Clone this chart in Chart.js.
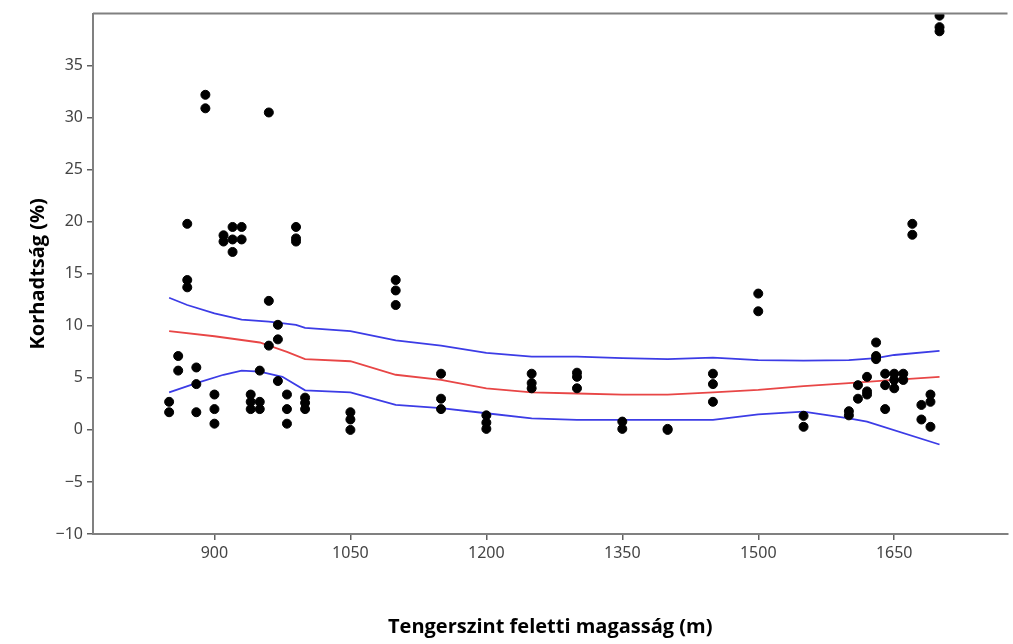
<!DOCTYPE html>
<html>
<head>
<meta charset="utf-8">
<script src="https://cdn.jsdelivr.net/npm/chart.js@4/dist/chart.umd.min.js"></script>
<style>
  body { margin: 0; background: #fff; }
  #wrap { width: 1013px; height: 644px; }
</style>
</head>
<body>
<div id="wrap"><canvas id="myChart"></canvas></div>
<script>
// measured samples: altitude (m) and rot (%)
var pointX = [
  850, 850, 860, 860, 870, 870, 870, 880, 880, 880, 890, 890,
  900, 900, 900, 910, 910, 920, 920, 920, 930, 930,
  940, 940, 940, 950, 950, 950, 960, 960, 960, 970, 970, 970,
  980, 980, 980, 990, 990, 990, 1000, 1000, 1000,
  1050, 1050, 1050, 1100, 1100, 1100, 1150, 1150, 1150,
  1200, 1200, 1200, 1250, 1250, 1250, 1300, 1300, 1300,
  1350, 1350, 1400, 1400, 1450, 1450, 1450, 1500, 1500,
  1550, 1550, 1600, 1600, 1610, 1610, 1620, 1620, 1620,
  1630, 1630, 1630, 1640, 1640, 1640, 1650, 1650, 1650,
  1660, 1660, 1670, 1670, 1680, 1680, 1690, 1690, 1690,
  1700, 1700, 1700
];
var pointY = [
  2.7, 1.7, 7.1, 5.7, 19.8, 14.4, 13.7, 6.0, 4.4, 1.7, 32.2, 30.9,
  3.4, 2.0, 0.6, 18.7, 18.1, 19.5, 18.3, 17.1, 19.5, 18.3,
  3.4, 2.7, 2.0, 5.7, 2.7, 2.0, 30.5, 12.4, 8.1, 10.1, 8.7, 4.7,
  3.4, 2.0, 0.6, 19.5, 18.4, 18.1, 3.1, 2.6, 2.0,
  1.7, 1.0, 0.0, 14.4, 13.4, 12.0, 5.4, 3.0, 2.0,
  1.4, 0.7, 0.1, 5.4, 4.5, 4.0, 5.5, 5.1, 4.0,
  0.8, 0.1, 0.1, 0.0, 5.4, 4.4, 2.7, 13.1, 11.4,
  1.35, 0.3, 1.8, 1.4, 4.3, 3.0, 5.1, 3.7, 3.4,
  8.4, 7.1, 6.8, 5.4, 4.3, 2.0, 5.4, 4.8, 4.0,
  5.4, 4.8, 19.8, 18.75, 2.4, 1.0, 3.4, 2.7, 0.3,
  39.8, 38.7, 38.3
];

// smoothed fit and its band
var fitX = [850, 900, 950, 980, 1000, 1050, 1100, 1150, 1200, 1250, 1300, 1350, 1400, 1450, 1500, 1550, 1600, 1650, 1700];
var fitY = [9.5, 9.0, 8.4, 7.5, 6.8, 6.6, 5.3, 4.8, 4.0, 3.6, 3.5, 3.4, 3.4, 3.6, 3.85, 4.2, 4.5, 4.8, 5.1];

var upperX = [850, 870, 900, 930, 960, 990, 1000, 1050, 1100, 1150, 1200, 1250, 1300, 1350, 1400, 1450, 1500, 1550, 1600, 1630, 1650, 1700];
var upperY = [12.7, 12.0, 11.2, 10.6, 10.4, 10.1, 9.8, 9.5, 8.6, 8.1, 7.4, 7.05, 7.05, 6.9, 6.8, 6.95, 6.7, 6.66, 6.7, 6.9, 7.2, 7.6];

var lowerX = [850, 880, 910, 930, 950, 975, 1000, 1050, 1100, 1150, 1200, 1250, 1300, 1350, 1400, 1450, 1500, 1550, 1600, 1620, 1700];
var lowerY = [3.6, 4.5, 5.3, 5.7, 5.6, 5.1, 3.8, 3.6, 2.4, 2.1, 1.6, 1.1, 0.96, 0.96, 0.96, 0.96, 1.5, 1.76, 1.1, 0.8, -1.4];

var xTicks = [900, 1050, 1200, 1350, 1500, 1650];
var yTicks = [-10, -5, 0, 5, 10, 15, 20, 25, 30, 35];

function pairs(xs, ys) {
  return xs.map(function (x, i) { return { x: x, y: ys[i] }; });
}

// plain numbers, true minus sign
function plain(v) {
  return v < 0 ? '\u2212' + Math.abs(v) : String(v);
}

// frame line along the top of the plot area
var topFrame = {
  id: 'topFrame',
  afterDraw: function (chart) {
    var a = chart.chartArea, c = chart.ctx;
    c.save();
    c.strokeStyle = '#808080';
    c.lineWidth = 2;
    c.beginPath();
    c.moveTo(a.left, a.top);
    c.lineTo(a.right, a.top);
    c.stroke();
    c.restore();
  }
};

var tickFont = { family: 'Noto Sans', size: 16 };
var titleFont = { family: 'Open Sans', size: 20, weight: 'bold' };

var ctx = document.getElementById('myChart').getContext('2d');
var myChart = new Chart(ctx, {
  type: 'scatter',
  data: {
    datasets: [
      {
        label: 'Minták',
        data: pairs(pointX, pointY),
        backgroundColor: '#000',
        borderColor: '#000',
        pointRadius: 4.5,
        order: 0
      },
      {
        label: 'Illesztés',
        data: pairs(fitX, fitY),
        showLine: true,
        borderColor: 'rgb(232, 70, 70)',
        borderWidth: 1.8,
        pointRadius: 0,
        order: 1
      },
      {
        label: 'Felső határ',
        data: pairs(upperX, upperY),
        showLine: true,
        borderColor: 'rgb(60, 60, 230)',
        borderWidth: 1.8,
        pointRadius: 0,
        order: 1
      },
      {
        label: 'Alsó határ',
        data: pairs(lowerX, lowerY),
        showLine: true,
        borderColor: 'rgb(60, 60, 230)',
        borderWidth: 1.8,
        pointRadius: 0,
        order: 1
      }
    ]
  },
  options: {
    responsive: true,
    maintainAspectRatio: false,
    animation: false,
    events: [],
    layout: { padding: { top: 12, right: 0, left: 0, bottom: 0 } },
    plugins: {
      legend: { display: false },
      tooltip: { enabled: false }
    },
    scales: {
      x: {
        type: 'linear',
        min: 766,
        max: 1775,
        afterBuildTicks: function (scale) {
          scale.ticks = xTicks.map(function (v) { return { value: v }; });
        },
        afterFit: function (scale) { scale.height = 110; },
        grid: { drawOnChartArea: false, tickLength: 6, color: '#606060', lineWidth: 1.5 },
        border: { color: '#808080', width: 2 },
        ticks: { font: tickFont, color: '#444', padding: 4, maxRotation: 0, callback: plain },
        title: {
          display: true,
          text: 'Tengerszint feletti magasság (m)',
          font: titleFont,
          color: '#000',
          padding: { top: 0, bottom: 5 }
        }
      },
      y: {
        type: 'linear',
        min: -10,
        max: 40,
        afterBuildTicks: function (scale) {
          scale.ticks = yTicks.map(function (v) { return { value: v }; });
        },
        afterFit: function (scale) { scale.width = 93; },
        grid: { drawOnChartArea: false, tickLength: 6, color: '#606060', lineWidth: 1.5 },
        border: { color: '#808080', width: 2 },
        ticks: { font: tickFont, color: '#444', padding: 4, callback: plain },
        title: {
          display: true,
          text: 'Korhadtság (%)',
          font: titleFont,
          color: '#000',
          padding: { top: 26, bottom: 0 }
        }
      }
    }
  },
  plugins: [topFrame]
});
</script>
</body>
</html>
